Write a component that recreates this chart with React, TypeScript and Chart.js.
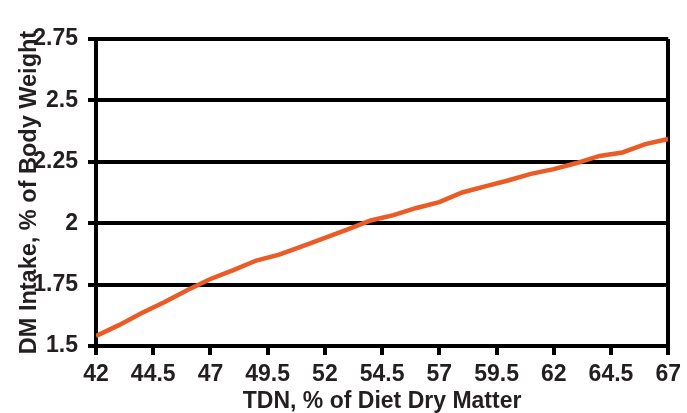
import { useEffect, useRef } from "react";
import { Chart, registerables } from "chart.js";

Chart.register(...registerables);

// TDN, % of diet dry matter
const tdn = [
  42, 43, 44, 45, 46, 47, 48, 49, 50, 51, 52, 53, 54, 55, 56, 57, 58, 59, 60,
  61, 62, 63, 64, 65, 66, 67,
];
// DM intake, % of body weight
const dmIntake = [
  1.541, 1.585, 1.634, 1.679, 1.728, 1.773, 1.809, 1.848, 1.872, 1.906, 1.94,
  1.975, 2.011, 2.033, 2.062, 2.086, 2.125, 2.15, 2.174, 2.201, 2.22, 2.245,
  2.274, 2.288, 2.322, 2.343,
];
const xTicks = [42, 44.5, 47, 49.5, 52, 54.5, 57, 59.5, 62, 64.5, 67];
const yTicks = [1.5, 1.75, 2, 2.25, 2.5, 2.75];

const FONT = "'Liberation Sans', Arial, sans-serif";
const INK = "#231f20";

export default function App() {
  const canvasRef = useRef<HTMLCanvasElement>(null);

  useEffect(() => {
    if (!canvasRef.current) return;
    const chart = new Chart(canvasRef.current, {
      type: "line",
      data: {
        datasets: [
          {
            data: tdn.map((x, i) => ({ x, y: dmIntake[i] })),
            borderColor: "#ea5b25",
            borderWidth: 4.5,
            pointRadius: 0,
            tension: 0,
            fill: false,
          },
        ],
      },
      options: {
        animation: false,
        responsive: false,
        devicePixelRatio: 1,
        layout: { padding: { top: 39, right: 18, bottom: 0, left: 0 } },
        plugins: { legend: { display: false }, tooltip: { enabled: false } },
        scales: {
          x: {
            type: "linear",
            min: 42,
            max: 67,
            afterBuildTicks: (scale) => {
              scale.ticks = xTicks.map((value) => ({ value }));
            },
            afterFit: (scale) => {
              scale.height = 67;
            },
            border: { display: true, color: "#000", width: 4 },
            grid: {
              drawOnChartArea: true,
              drawTicks: true,
              tickLength: 9,
              lineWidth: 4,
              tickColor: "#000",
              color: (ctx) => (ctx.tick && ctx.tick.value === 67 ? "#000" : "rgba(0,0,0,0)"),
            },
            ticks: {
              color: INK,
              padding: 6,
              maxRotation: 0,
              autoSkip: false,
              font: { family: FONT, size: 23, weight: "bold" },
            },
            title: {
              display: true,
              text: "TDN, % of Diet Dry Matter",
              color: INK,
              padding: { top: 0, bottom: 0 },
              font: { family: FONT, size: 23, weight: "bold", lineHeight: 1 },
            },
          },
          y: {
            min: 1.5,
            max: 2.75,
            afterBuildTicks: (scale) => {
              scale.ticks = yTicks.map((value) => ({ value }));
            },
            afterFit: (scale) => {
              scale.width = 96;
            },
            border: { display: true, color: "#000", width: 4 },
            grid: {
              color: "#000",
              lineWidth: 4,
              tickLength: 8,
            },
            ticks: {
              color: INK,
              padding: 10,
              font: { family: FONT, size: 23, weight: "bold" },
              callback: (v) => String(v),
            },
            title: {
              display: true,
              text: "DM Intake, % of Body Weight",
              color: INK,
              padding: { top: 15, bottom: 0 },
              font: { family: FONT, size: 23.5, weight: "bold" },
            },
          },
        },
      },
    });
    return () => chart.destroy();
  }, []);

  return (
    <div style={{ position: "fixed", left: 0, top: 0, width: 687, height: 413, background: "#fff" }}>
      <canvas ref={canvasRef} width={687} height={413} />
    </div>
  );
}
